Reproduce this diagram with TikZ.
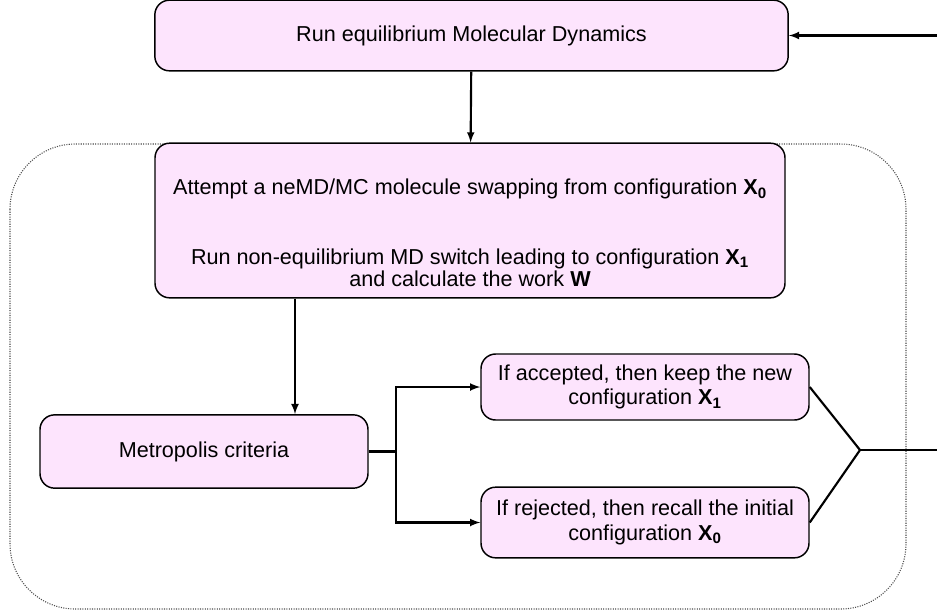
\documentclass[tikz,border=0pt]{standalone}
\usepackage{fontspec}
\setmainfont{Liberation Sans}
\usepackage{tikz}
\usepackage{xcolor}
\usetikzlibrary{arrows,positioning}
\definecolor{boxpink}{HTML}{FDE4FD}
\newcommand{\cfg}[1]{\textbf{X}\textsubscript{\textbf{#1}}}

\begin{document}
\begin{tikzpicture}[x=0.75pt, y=-0.75pt, thick,
        main/.style = {draw, line width=1.1pt, rounded corners=11pt, fill=boxpink, align=center, inner sep=0pt, font=\fontsize{16.2}{18.5}\selectfont},
        plain/.style = {align=center, inner sep=0pt, font=\fontsize{16.2}{17}\selectfont},
        link/.style = {line width=1.6pt, -latex}]
        \useasboundingbox (0,0) rectangle (937,615);
        % dotted frame round the swap loop
        \draw[densely dotted, gray!60!black, line width=0.8pt, rounded corners=49pt] (10,144) rectangle (906,609);

        \node[main, minimum width=475pt, minimum height=53pt] (n_md) at (471.5,35.5) {Run equilibrium Molecular Dynamics};
        \node[main, minimum width=472.5pt, minimum height=116pt] (n_swap) at (470,220.5) {};
        \node[plain] (n_swap_txt) at (470,233) {Attempt a neMD/MC molecule swapping from configuration \cfg{0}\\[35pt] Run non-equilibrium MD switch leading to configuration \cfg{1}\\ and calculate the work \textbf{W}};
        \node[main, minimum width=246pt, minimum height=55pt] (n_met) at (204,451.5) {Metropolis criteria};
        \node[main, minimum width=246pt, minimum height=49.5pt] (n_acc) at (645,387) {If accepted, then keep the new\\ configuration \cfg{1}};
        \node[main, minimum width=246pt, minimum height=53pt] (n_rej) at (645,522.5) {If rejected, then recall the initial\\ configuration \cfg{0}};
        \coordinate (n_join) at (860,450);
        \coordinate (n_out) at (937,450);
        \coordinate (n_back) at (937,35.5);

        \draw[link] (n_md) -- (n_swap);
        \draw[link] (n_swap.south -| 295,0) -- (n_met.north -| 295,0);
        \draw[link] (n_met.east) -- ++(27,0) coordinate (n_split) |- (n_acc.west);
        \draw[link] (n_split) |- (n_rej.west);
        \draw[line width=1.6pt] (n_acc.east) -- (n_join) -- (n_rej.east);
        \draw[line width=1.6pt] (n_join) -- (n_out);
        \draw[link] (n_back) -- (n_md.east);
      \end{tikzpicture}
\end{document}
